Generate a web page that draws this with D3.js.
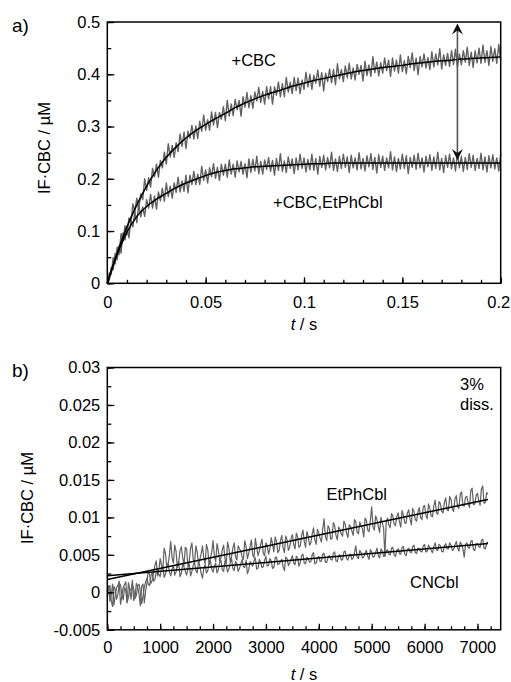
<!DOCTYPE html>
<html><head><meta charset="utf-8">
<script src="https://cdn.jsdelivr.net/npm/d3@7"></script>
<style>
body{margin:0;background:#fff;}
svg text{font-family:"Liberation Sans",Arial,sans-serif;fill:#000;}
</style></head><body>
<svg id="c" width="511" height="682"></svg>
<script>
// ---------- Panel a data (t in s, IF·CBC in µM), sampled every 1 ms ----------
const stepA = 0.001;
const traceCBC = [0,0.020,0.017,0.049,0.037,0.069,0.055,0.095,0.081,0.110,
0.093,0.125,0.114,0.152,0.137,0.163,0.141,0.171,0.160,0.200,
0.178,0.202,0.184,0.220,0.204,0.228,0.203,0.235,0.221,0.251,
0.228,0.267,0.242,0.264,0.241,0.269,0.252,0.286,0.262,0.289,
0.258,0.291,0.278,0.302,0.276,0.301,0.277,0.310,0.291,0.322,
0.293,0.313,0.293,0.328,0.303,0.327,0.298,0.327,0.314,0.338,
0.311,0.350,0.320,0.343,0.321,0.352,0.332,0.350,0.320,0.357,
0.337,0.365,0.336,0.359,0.335,0.366,0.349,0.375,0.346,0.367,
0.343,0.376,0.353,0.376,0.343,0.376,0.360,0.385,0.357,0.382,
0.357,0.394,0.366,0.385,0.363,0.394,0.369,0.393,0.363,0.389,
0.371,0.404,0.376,0.400,0.371,0.398,0.383,0.408,0.377,0.403,
0.368,0.402,0.386,0.410,0.384,0.409,0.380,0.420,0.391,0.409,
0.386,0.416,0.393,0.421,0.391,0.412,0.389,0.419,0.400,0.417,
0.387,0.425,0.398,0.418,0.396,0.434,0.403,0.423,0.397,0.422,
0.402,0.431,0.407,0.427,0.396,0.431,0.406,0.427,0.402,0.437,
0.405,0.426,0.401,0.434,0.413,0.441,0.407,0.431,0.399,0.434,
0.414,0.439,0.412,0.432,0.409,0.443,0.414,0.439,0.418,0.449,
0.410,0.437,0.417,0.440,0.415,0.445,0.419,0.448,0.414,0.439,
0.418,0.445,0.423,0.452,0.417,0.442,0.413,0.445,0.422,0.450,
0.421,0.456,0.423,0.445,0.417,0.453,0.425,0.449,0.421,0.457,
0.427];
const traceCBCEt = [0,0.006,0.031,0.026,0.057,0.045,0.072,0.058,0.097,0.083,
0.109,0.087,0.120,0.108,0.137,0.116,0.151,0.127,0.146,0.128,
0.160,0.144,0.170,0.144,0.167,0.142,0.175,0.158,0.182,0.157,
0.192,0.166,0.186,0.163,0.192,0.174,0.203,0.175,0.196,0.176,
0.207,0.173,0.207,0.189,0.214,0.189,0.209,0.189,0.224,0.197,
0.217,0.192,0.221,0.204,0.229,0.201,0.222,0.197,0.228,0.207,
0.228,0.203,0.236,0.209,0.228,0.203,0.234,0.213,0.233,0.209,
0.229,0.202,0.238,0.212,0.237,0.215,0.243,0.210,0.233,0.209,
0.236,0.218,0.241,0.214,0.235,0.207,0.239,0.216,0.248,0.214,
0.234,0.212,0.242,0.220,0.238,0.210,0.240,0.217,0.247,0.220,
0.240,0.213,0.237,0.217,0.247,0.216,0.239,0.209,0.243,0.222,
0.245,0.217,0.241,0.221,0.251,0.216,0.238,0.214,0.243,0.220,
0.247,0.222,0.242,0.212,0.245,0.221,0.240,0.217,0.250,0.219,
0.239,0.215,0.244,0.223,0.248,0.218,0.241,0.211,0.246,0.222,
0.243,0.216,0.240,0.221,0.252,0.217,0.242,0.214,0.239,0.219,
0.247,0.220,0.244,0.210,0.241,0.222,0.245,0.218,0.249,0.221,
0.240,0.213,0.243,0.223,0.246,0.216,0.242,0.220,0.251,0.217,
0.239,0.212,0.244,0.222,0.247,0.219,0.240,0.215,0.250,0.221,
0.243,0.214,0.241,0.218,0.248,0.222,0.245,0.216,0.239,0.220,
0.249,0.217,0.242,0.213,0.244,0.221,0.246,0.219,0.240,0.215,
0.248];
// fitted curves, every 5 ms
const stepFitA = 0.005;
const fitCBC = [0,0.058,0.108,0.150,0.186,0.216,0.241,0.261,0.278,0.292,0.304,0.315,0.325,0.336,0.345,0.353,0.360,0.366,0.372,0.378,0.383,0.388,0.392,0.396,0.400,0.404,0.407,0.410,0.413,0.415,0.417,0.420,0.422,0.424,0.426,0.427,0.429,0.430,0.431,0.432,0.433];
const fitCBCEt = [0,0.055,0.098,0.128,0.147,0.161,0.172,0.183,0.192,0.199,0.206,0.212,0.216,0.219,0.221,0.223,0.224,0.225,0.226,0.227,0.228,0.229,0.229,0.230,0.230,0.230,0.230,0.230,0.230,0.230,0.230,0.230,0.230,0.230,0.230,0.230,0.230,0.230,0.230,0.230,0.230];
const arrowA = {t: 0.178, top: 0.497, bottom: 0.236};
const xTicksA = [0, 0.05, 0.1, 0.15, 0.2];
const xTickLabelsA = ["0", "0.05", "0.1", "0.15", "0.2"];
const yTicksA = [0, 0.1, 0.2, 0.3, 0.4, 0.5];
const yTickLabelsA = ["0", "0.1", "0.2", "0.3", "0.4", "0.5"];

// ---------- Panel b data (t in s, IF·CBC in µM) ----------
// samples at t = 0, 50, 100, ... s
const stepB = 50;
const traceEtPhCbl = [0.0002,-0.0012,0.0011,-0.0004,0.0009,-0.0016,0.0006,0.0014,-0.0007,0.0003,
-0.0011,0.0012,-0.0002,0.0008,-0.0014,0.0013,0.0024,0.0016,0.0036,0.0022,
0.0045,0.0031,0.0052,0.0037,0.0068,0.0039,0.0055,0.0040,0.0061,0.0036,
0.0058,0.0042,0.0066,0.0039,0.0054,0.0044,0.0062,0.0038,0.0057,0.0045,
0.0069,0.0041,0.0056,0.0046,0.0063,0.0039,0.0059,0.0048,0.0066,0.0043,
0.0058,0.0047,0.0069,0.0045,0.0061,0.0050,0.0072,0.0049,0.0064,0.0052,
0.0066,0.0051,0.0073,0.0054,0.0068,0.0056,0.0076,0.0053,0.0070,0.0060,
0.0077,0.0058,0.0074,0.0062,0.0083,0.0060,0.0075,0.0066,0.0086,0.0064,
0.0079,0.0067,0.0098,0.0069,0.0085,0.0072,0.0089,0.0070,0.0084,0.0075,
0.0091,0.0073,0.0088,0.0076,0.0094,0.0078,0.0089,0.0074,0.0096,0.0081,
0.0114,0.0083,0.0097,0.0080,0.0093,0.0048,0.0099,0.0086,0.0102,0.0089,
0.0106,0.0087,0.0103,0.0092,0.0110,0.0090,0.0108,0.0095,0.0113,0.0097,
0.0116,0.0098,0.0112,0.0101,0.0123,0.0104,0.0118,0.0106,0.0126,0.0109,
0.0124,0.0108,0.0129,0.0112,0.0134,0.0115,0.0128,0.0113,0.0139,0.0118,
0.0132,0.0116,0.0142,0.0120,0.0131];
// samples at t = 25, 75, 125, ... s
const traceEtPhCblMid = [0.0009,-0.0003,-0.0017,0.0006,0.0015,-0.0005,0.0010,-0.0013,0.0004,0.0016,
-0.0006,0.0007,-0.0018,0.0011,0.0002,0.0029,0.0012,0.0026,0.0042,0.0030,
0.0036,0.0059,0.0034,0.0050,0.0046,0.0063,0.0033,0.0056,0.0047,0.0060,
0.0035,0.0059,0.0044,0.0062,0.0038,0.0051,0.0046,0.0064,0.0037,0.0054,
0.0048,0.0065,0.0042,0.0057,0.0045,0.0067,0.0041,0.0059,0.0047,0.0062,
0.0055,0.0044,0.0061,0.0052,0.0070,0.0046,0.0060,0.0055,0.0071,0.0049,
0.0062,0.0058,0.0064,0.0074,0.0053,0.0069,0.0059,0.0075,0.0056,0.0072,
0.0064,0.0079,0.0060,0.0076,0.0068,0.0081,0.0063,0.0078,0.0070,0.0084,
0.0072,0.0085,0.0074,0.0089,0.0071,0.0093,0.0076,0.0087,0.0078,0.0095,
0.0079,0.0090,0.0082,0.0097,0.0080,0.0094,0.0085,0.0099,0.0083,0.0096,
0.0087,0.0102,0.0088,0.0100,0.0086,0.0095,0.0090,0.0105,0.0091,0.0101,
0.0094,0.0109,0.0093,0.0106,0.0098,0.0112,0.0097,0.0107,0.0100,0.0114,
0.0103,0.0118,0.0102,0.0115,0.0106,0.0121,0.0108,0.0120,0.0110,0.0128,
0.0111,0.0125,0.0114,0.0131,0.0116,0.0127,0.0119,0.0136,0.0117,0.0129,
0.0122,0.0138,0.0119,0.0133];
const traceCNCbl = [-0.0006,0.0009,-0.0019,0.0004,-0.0003,0.0010,-0.0010,0.0002,0.0013,-0.0009,
0.0005,-0.0004,0.0011,-0.0015,0.0007,0.0019,0.0009,0.0026,0.0017,0.0030,
0.0021,0.0035,0.0024,0.0039,0.0022,0.0036,0.0027,0.0041,0.0025,0.0034,
0.0023,0.0038,0.0028,0.0040,0.0026,0.0035,0.0019,0.0037,0.0029,0.0042,
0.0027,0.0039,0.0030,0.0043,0.0028,0.0036,0.0031,0.0045,0.0029,0.0038,
0.0032,0.0044,0.0033,0.0025,0.0041,0.0035,0.0046,0.0032,0.0040,0.0034,
0.0048,0.0036,0.0042,0.0033,0.0047,0.0038,0.0044,0.0029,0.0045,0.0039,
0.0049,0.0037,0.0046,0.0040,0.0051,0.0038,0.0044,0.0041,0.0053,0.0039,
0.0048,0.0042,0.0052,0.0040,0.0049,0.0043,0.0054,0.0041,0.0050,0.0044,
0.0055,0.0043,0.0051,0.0046,0.0062,0.0045,0.0053,0.0047,0.0056,0.0044,
0.0054,0.0048,0.0059,0.0046,0.0055,0.0049,0.0057,0.0050,0.0060,0.0048,
0.0058,0.0051,0.0061,0.0049,0.0059,0.0053,0.0063,0.0052,0.0058,0.0054,
0.0064,0.0055,0.0060,0.0053,0.0066,0.0056,0.0062,0.0054,0.0065,0.0058,
0.0063,0.0057,0.0068,0.0055,0.0064,0.0047,0.0066,0.0059,0.0069,0.0056,
0.0065,0.0060,0.0071,0.0058,0.0067];
const traceCNCblMid = [0.0005,-0.0011,0.0008,-0.0009,0.0012,-0.0002,0.0006,-0.0014,0.0003,0.0010,
-0.0008,0.0009,0.0001,-0.0005,0.0014,0.0011,0.0022,0.0015,0.0027,0.0024,
0.0032,0.0020,0.0033,0.0027,0.0031,0.0023,0.0038,0.0021,0.0037,0.0028,
0.0033,0.0022,0.0036,0.0029,0.0041,0.0025,0.0032,0.0026,0.0039,0.0031,
0.0035,0.0026,0.0040,0.0030,0.0042,0.0027,0.0039,0.0032,0.0041,0.0028,
0.0038,0.0034,0.0043,0.0030,0.0037,0.0042,0.0031,0.0044,0.0033,0.0043,
0.0035,0.0045,0.0032,0.0046,0.0037,0.0041,0.0034,0.0047,0.0036,0.0044,
0.0039,0.0048,0.0035,0.0049,0.0039,0.0047,0.0040,0.0050,0.0038,0.0046,
0.0041,0.0051,0.0040,0.0047,0.0044,0.0052,0.0042,0.0049,0.0043,0.0054,
0.0045,0.0050,0.0044,0.0053,0.0047,0.0056,0.0046,0.0052,0.0048,0.0057,
0.0047,0.0053,0.0049,0.0058,0.0048,0.0055,0.0051,0.0059,0.0050,0.0056,
0.0052,0.0060,0.0051,0.0057,0.0054,0.0061,0.0053,0.0059,0.0055,0.0062,
0.0054,0.0063,0.0056,0.0061,0.0057,0.0064,0.0055,0.0062,0.0058,0.0066,
0.0056,0.0063,0.0059,0.0067,0.0058,0.0064,0.0060,0.0068,0.0057,0.0065,
0.0061,0.0069,0.0059,0.0066];
const fitTimesB = [0, 3600, 7200];
const fitEtPhCbl = [0.0017, 0.00705, 0.0124];
const fitCNCbl = [0.0022, 0.00435, 0.0065];
const xTicksB = [0, 1000, 2000, 3000, 4000, 5000, 6000, 7000];
const xTickLabelsB = ["0", "1000", "2000", "3000", "4000", "5000", "6000", "7000"];
const yTicksB = [-0.005, 0, 0.005, 0.01, 0.015, 0.02, 0.025, 0.03];
const yTickLabelsB = ["-0.005", "0", "0.005", "0.01", "0.015", "0.02", "0.025", "0.03"];

// ---------- drawing ----------
const svg = d3.select("#c");
const FS = 16.5;
const TRACE = "#626262";

// pair samples with their time stamps (main grid + half-step grid), sorted by time
function samples(main, step, mid) {
  const pts = main.map((v, i) => [i * step, v]);
  if (mid) mid.forEach((v, i) => pts.push([step / 2 + i * step, v]));
  return d3.sort(pts, d => d[0]);
}

function panel(o) {
  const g = svg.append("g");
  const x = d3.scaleLinear().domain(o.xDomain).range([o.l, o.r]);
  const y = d3.scaleLinear().domain(o.yDomain).range([o.b, o.t]);

  o.traces.forEach(tr => {
    g.append("path")
      .datum(tr)
      .attr("fill", "none").attr("stroke", TRACE).attr("stroke-width", o.traceW)
      .attr("stroke-linejoin", "round")
      .attr("d", d3.line().x(d => x(d[0])).y(d => y(d[1])));
  });
  o.fits.forEach(f => {
    g.append("path")
      .datum(f.values.map((v, i) => [f.times[i], v]))
      .attr("fill", "none").attr("stroke", "#000").attr("stroke-width", 1.5)
      .attr("d", d3.line().curve(d3.curveMonotoneX).x(d => x(d[0])).y(d => y(d[1])));
  });

  const ax = (gen, tr) => {
    const a = g.append("g").attr("transform", tr).call(gen);
    a.select(".domain").remove();
    a.selectAll("line").attr("stroke", "#000").attr("stroke-width", 1.3);
    a.selectAll("text").attr("font-size", FS).attr("font-family", '"Liberation Sans", Arial, sans-serif').attr("fill", "#000");
    return a;
  };
  ax(d3.axisBottom(x).tickValues(o.xMinor).tickSize(-3.5).tickFormat(""), `translate(0,${o.b})`);
  const xa = ax(d3.axisBottom(x).tickValues(o.xTicks).tickSize(-6).tickPadding(o.xPad)
     .tickFormat((d, i) => o.xLabels[i]), `translate(0,${o.b})`);
  if (o.lastLabelDx) {
    xa.selectAll("text").filter((d, i, n) => i === n.length - 1).attr("dx", o.lastLabelDx);
  }
  ax(d3.axisLeft(y).tickValues(o.yMinor).tickSize(-4).tickFormat(""), `translate(${o.l},0)`);
  ax(d3.axisLeft(y).tickValues(o.yTicks).tickSize(-7).tickPadding(7)
     .tickFormat((d, i) => o.yLabels[i]), `translate(${o.l},0)`);

  g.append("rect").attr("x", o.l).attr("y", o.t).attr("width", o.r - o.l).attr("height", o.b - o.t)
    .attr("fill", "none").attr("stroke", "#000").attr("stroke-width", 1.5);

  const xt = g.append("text").attr("x", (o.l + o.r) / 2).attr("y", o.xTitleY)
    .attr("text-anchor", "middle").attr("font-size", FS);
  xt.append("tspan").attr("font-style", "italic").text("t");
  xt.append("tspan").text(" / s");
  g.append("text").attr("transform", `translate(${o.yTitleX},${o.yTitleY}) rotate(-90)`)
    .attr("text-anchor", "middle").attr("dominant-baseline", "central")
    .attr("font-size", FS).text("IF·CBC / µM");
  g.append("text").attr("x", 12).attr("y", o.labelY).attr("font-size", 19).text(o.label);

  o.notes.forEach(n => {
    g.append("text").attr("x", n.x).attr("y", n.y).attr("font-size", FS).text(n.text);
  });
  return {g, x, y};
}

const pa = panel({
  l: 107.3, r: 500.7, t: 22, b: 283.3,
  xDomain: [0, 0.2], yDomain: [0, 0.5],
  xTicks: xTicksA, xLabels: xTickLabelsA, xMinor: d3.range(0, 0.2001, 0.01),
  yTicks: yTicksA, yLabels: yTickLabelsA, yMinor: d3.range(0, 0.5001, 0.05),
  xPad: 12.5, traceW: 1.4, lastLabelDx: -2.5,
  traces: [samples(traceCBC, stepA), samples(traceCBCEt, stepA)],
  fits: [{values: fitCBC, times: fitCBC.map((v, i) => i * stepFitA)},
         {values: fitCBCEt, times: fitCBCEt.map((v, i) => i * stepFitA)}],
  xTitleY: 330, yTitleX: 43.5, yTitleY: 148, label: "a)", labelY: 32,
  notes: [{x: 231.5, y: 66, text: "+CBC"}, {x: 273, y: 208, text: "+CBC,EtPhCbl"}]
});

{
  const ax = pa.x(arrowA.t), y1 = pa.y(arrowA.top), y2 = pa.y(arrowA.bottom);
  pa.g.append("line").attr("x1", ax).attr("x2", ax).attr("y1", y1 + 4).attr("y2", y2 - 4)
    .attr("stroke", "#555").attr("stroke-width", 1.6);
  const head = (tipY, dir) => `M${ax},${tipY} L${ax + 5.5},${tipY + dir * 11} L${ax},${tipY + dir * 7} L${ax - 5.5},${tipY + dir * 11} Z`;
  pa.g.append("path").attr("d", head(y1, 1)).attr("fill", "#111");
  pa.g.append("path").attr("d", head(y2, -1)).attr("fill", "#111");
}

panel({
  l: 107.3, r: 500.7, t: 367.5, b: 629.8,
  xDomain: [0, 7440], yDomain: [-0.005, 0.03],
  xTicks: xTicksB, xLabels: xTickLabelsB, xMinor: d3.range(0, 7300, 250),
  yTicks: yTicksB, yLabels: yTickLabelsB, yMinor: d3.range(-0.005, 0.03001, 0.0025),
  xPad: 11.5, traceW: 1.2,
  traces: [samples(traceEtPhCbl, stepB, traceEtPhCblMid), samples(traceCNCbl, stepB, traceCNCblMid)],
  fits: [{values: fitEtPhCbl, times: fitTimesB}, {values: fitCNCbl, times: fitTimesB}],
  xTitleY: 680, yTitleX: 26.5, yTitleY: 498, label: "b)", labelY: 377,
  notes: [{x: 326.5, y: 500, text: "EtPhCbl"}, {x: 410, y: 588, text: "CNCbl"},
          {x: 460, y: 390, text: "3%"}, {x: 460, y: 410, text: "diss."}]
});
</script>
</body></html>
